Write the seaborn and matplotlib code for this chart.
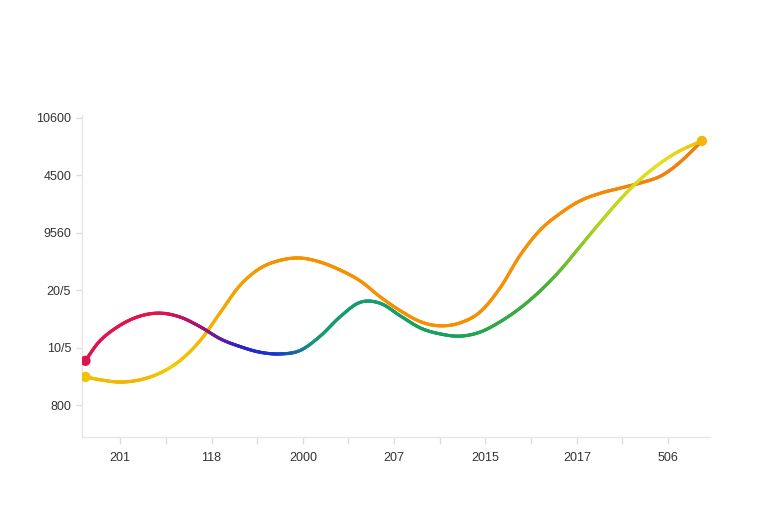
import numpy as np
import pandas as pd
import seaborn as sns
import matplotlib.pyplot as plt
from matplotlib.collections import LineCollection
from matplotlib.colors import LinearSegmentedColormap

# Tick labels (as printed on the chart)
x_labels = ['201', '118', '2000', '207', '2015', '2017', '506']
y_labels = ['800', '10/5', '20/5', '9560', '4500', '10600']

# Sample positions along x (in tick units)
x_pos = [-0.38, -0.22, 0.00, 0.22, 0.44, 0.66, 0.88, 1.10, 1.31, 1.53, 1.75,
         1.97, 2.19, 2.41, 2.63, 2.85, 3.07, 3.29, 3.50, 3.72, 3.94, 4.16,
         4.38, 4.60, 4.82, 5.04, 5.26, 5.48, 5.70, 5.92, 6.13, 6.37]

# Series (in y tick units)
serie_a = [0.77, 1.12, 1.39, 1.55, 1.60, 1.53, 1.36, 1.15, 1.02, 0.92, 0.89,
           0.95, 1.20, 1.54, 1.79, 1.77, 1.55, 1.34, 1.24, 1.20, 1.27, 1.45,
           1.69, 1.99, 2.35, 2.77, 3.19, 3.59, 3.94, 4.22, 4.43, 4.60]
serie_b = [0.49, 0.44, 0.40, 0.44, 0.56, 0.78, 1.13, 1.62, 2.08, 2.38, 2.52,
           2.56, 2.49, 2.35, 2.16, 1.88, 1.64, 1.45, 1.38, 1.43, 1.62, 2.04,
           2.61, 3.05, 3.34, 3.56, 3.69, 3.78, 3.87, 3.99, 4.23, 4.60]

dados = pd.DataFrame({'x': x_pos, 'a': serie_a, 'b': serie_b})

# Gradientes de cor (posicao relativa ao longo do x)
grad_a = [(0.00, '#de1450'), (0.12, '#e4134a'), (0.19, '#9a1578'),
          (0.25, '#2a22c8'), (0.31, '#1838cc'), (0.37, '#139a78'),
          (0.60, '#17a25a'), (0.75, '#4cb03a'), (0.84, '#b8d420'),
          (0.93, '#e4e21e'), (1.00, '#f2c20a')]
grad_b = [(0.00, '#f2c000'), (0.08, '#f4b400'), (0.14, '#f2cc00'),
          (0.22, '#f4a800'), (0.30, '#f59200'), (0.80, '#f58e06'),
          (1.00, '#f07c10')]


def suavizar(xs, ys, n=24):
    # Catmull-Rom so para desenhar a curva lisa
    p = np.column_stack([xs, ys])
    p = np.vstack([p[0], p, p[-1]])
    out = []
    for i in range(1, len(p) - 2):
        p0, p1, p2, p3 = p[i - 1], p[i], p[i + 1], p[i + 2]
        t = np.linspace(0, 1, n, endpoint=False)[:, None]
        seg = 0.5 * ((2 * p1) + (-p0 + p2) * t + (2 * p0 - 5 * p1 + 4 * p2 - p3) * t ** 2
                     + (-p0 + 3 * p1 - 3 * p2 + p3) * t ** 3)
        out.append(seg)
    out.append(p[-2][None, :])
    return np.vstack(out)


sns.set_theme(style="white")
plt.rcParams['font.family'] = ['Liberation Sans', 'DejaVu Sans']

f = plt.figure(figsize=(7.68, 5.12), dpi=100)
ax = f.add_axes([0.107, 0.1465, 0.8177, 0.6289])

# linhas com gradiente
for col, grad in [('b', grad_b), ('a', grad_a)]:
    cmap = LinearSegmentedColormap.from_list(col, grad)
    pts = suavizar(dados['x'].values, dados[col].values)
    segs = np.stack([pts[:-1], pts[1:]], axis=1)
    pos = (pts[:-1, 0] - pts[0, 0]) / (pts[-1, 0] - pts[0, 0])
    lc = LineCollection(segs, colors=cmap(pos), linewidth=2.3, capstyle='round', zorder=3)
    ax.add_collection(lc)

# pontos nas pontas
ini = pd.DataFrame({'x': [x_pos[0], x_pos[0], x_pos[-1]],
                    'y': [serie_a[0], serie_b[0], serie_a[-1]],
                    'c': ['a', 'b', 'fim']})
sns.scatterplot(data=ini, x='x', y='y', hue='c', palette={'a': '#de1450', 'b': '#f2c200', 'fim': '#f5b60a'},
                s=55, edgecolor='none', legend=False, zorder=4, ax=ax)

ax.set_xlim(-0.416, 6.46)
ax.set_ylim(-0.557, 5.052)
ax.set_xticks(range(len(x_labels)))
ax.set_xticklabels(x_labels)
ax.set_xticks(np.arange(0.5, len(x_labels) - 1, 1), minor=True)
ax.set_yticks(range(len(y_labels)))
ax.set_yticklabels(y_labels)
ax.set_xlabel('')
ax.set_ylabel('')

for s in ['top', 'right']:
    ax.spines[s].set_visible(False)
for s in ['left', 'bottom']:
    ax.spines[s].set_color('#e6e6e6')
    ax.spines[s].set_linewidth(1.0)

ax.tick_params(axis='both', which='both', colors='#dddddd', labelcolor='#333333', labelsize=9)
ax.tick_params(axis='y', left=True, length=4, width=1, pad=4)
ax.tick_params(axis='x', which='both', bottom=True, length=5, width=1, pad=6)

f.savefig('out.png', dpi=100, facecolor='white')
